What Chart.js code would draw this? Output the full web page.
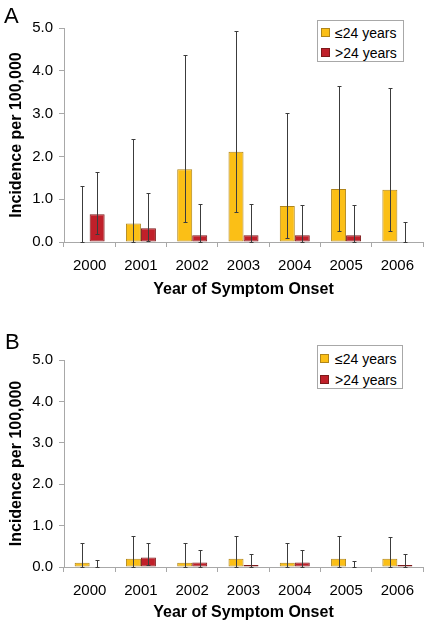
<!DOCTYPE html>
<html>
<head>
<meta charset="utf-8">
<script src="https://cdn.jsdelivr.net/npm/chart.js@4.4.1/dist/chart.umd.min.js"></script>
<style>
  body { margin: 0; background: #fff; font-family: 'Liberation Sans', Arial, sans-serif; color: #000; }
  .panel { position: relative; width: 427px; height: 312px; }
  .panel canvas { position: absolute; left: 0; top: 0; }
  .tag { position: absolute; font-size: 22px; line-height: 22px; }
  .lgbox { position: absolute; border: 1px solid #a8a8a8; box-sizing: border-box; background: #fff; }
  .sw { position: absolute; width: 9px; height: 9px; box-sizing: border-box; }
  .lt { position: absolute; font-size: 14px; line-height: 14px; white-space: nowrap; }
</style>
</head>
<body>

<div class="panel">
  <canvas id="chartA" width="427" height="312"></canvas>
  <div class="tag" style="left:4px;top:5px">A</div>
  <div class="lgbox" style="left:317px;top:20px;width:87px;height:42px"></div>
  <div class="sw" style="left:321px;top:28px;background:#fbbf16;border:1px solid #b0851a"></div>
  <div class="lt" style="left:335px;top:26px">≤24 years</div>
  <div class="sw" style="left:321px;top:48px;background:#c0202a;border:1px solid #7d1a1a"></div>
  <div class="lt" style="left:335px;top:46px">&gt;24 years</div>
</div>

<div class="panel">
  <canvas id="chartB" width="427" height="312"></canvas>
  <div class="tag" style="left:5px;top:19px">B</div>
  <div class="lgbox" style="left:317px;top:33px;width:86px;height:44px"></div>
  <div class="sw" style="left:320px;top:42px;background:#fbbf16;border:1px solid #b0851a"></div>
  <div class="lt" style="left:335px;top:40px">≤24 years</div>
  <div class="sw" style="left:320px;top:63px;background:#c0202a;border:1px solid #7d1a1a"></div>
  <div class="lt" style="left:335px;top:61px">&gt;24 years</div>
</div>

<script>
// ─── Data ──────────────────────────────────────────────
const years = ['2000', '2001', '2002', '2003', '2004', '2005', '2006'];
const yMax = 5;
const yStep = 1;

// Panel A
const youngA   = [0, 0.43, 1.70, 2.11, 0.84, 1.24, 1.22];
const youngALo = [0, 0, 0.47, 0.70, 0.09, 0.25, 0.25];
const youngAHi = [1.30, 2.40, 4.37, 4.93, 3.02, 3.64, 3.60];
const olderA   = [0.65, 0.32, 0.16, 0.16, 0.16, 0.16, 0];
const olderALo = [0.18, 0.03, 0, 0, 0, 0, 0];
const olderAHi = [1.64, 1.15, 0.89, 0.89, 0.87, 0.86, 0.46];

// Panel B
const youngB   = [0.10, 0.20, 0.10, 0.20, 0.10, 0.20, 0.20];
const youngBLo = [0, 0, 0, 0, 0, 0, 0];
const youngBHi = [0.58, 0.75, 0.58, 0.75, 0.58, 0.74, 0.72];
const olderB   = [0, 0.23, 0.11, 0.05, 0.11, 0, 0.05];
const olderBLo = [0, 0.04, 0, 0, 0, 0, 0];
const olderBHi = [0.17, 0.59, 0.41, 0.31, 0.41, 0.15, 0.31];

// ─── Error bars drawn from the y scale ─────────────────
const whiskers = {
  id: 'whiskers',
  afterDatasetsDraw(chart) {
    const { ctx } = chart;
    const y = chart.scales.y;
    ctx.save();
    ctx.strokeStyle = '#3c3c3c';
    ctx.lineWidth = 1;
    chart.data.datasets.forEach((ds, di) => {
      chart.getDatasetMeta(di).data.forEach((bar, i) => {
        const x = Math.round(bar.x) + 0.5;
        const lo = Math.round(y.getPixelForValue(ds.lo[i])) + 0.5;
        const hi = Math.round(y.getPixelForValue(ds.hi[i])) + 0.5;
        ctx.beginPath();
        ctx.moveTo(x, lo); ctx.lineTo(x, hi);
        ctx.moveTo(x - 2, hi); ctx.lineTo(x + 2, hi);
        ctx.moveTo(x - 2, lo); ctx.lineTo(x + 2, lo);
        ctx.stroke();
      });
    });
    ctx.restore();
  },
};

const axisGrey = '#a8a8a8';
const font = "'Liberation Sans', Arial, sans-serif";

function makeChart(id, young, yLo, yHi, older, oLo, oHi, lay) {
  const zeroless = (c) => (c.raw ? 1 : 0);
  return new Chart(document.getElementById(id), {
    type: 'bar',
    data: {
      labels: years,
      datasets: [
        { label: '≤24 years', data: young, lo: yLo, hi: yHi,
          backgroundColor: '#fbbf16', borderColor: '#b0851a', borderWidth: zeroless, borderSkipped: false },
        { label: '>24 years', data: older, lo: oLo, hi: oHi,
          backgroundColor: '#c0202a', borderColor: '#7d1a1a', borderWidth: zeroless, borderSkipped: false },
      ],
    },
    options: {
      responsive: false,
      animation: false,
      events: [],
      categoryPercentage: 0.585,
      barPercentage: 1,
      layout: { padding: { top: lay.top, right: 4, left: 0, bottom: 0 } },
      plugins: { legend: { display: false }, tooltip: { enabled: false } },
      scales: {
        x: {
          afterFit: (s) => { s.height = lay.xh; },
          border: { color: axisGrey },
          grid: { offset: true, drawOnChartArea: false, drawTicks: true, tickLength: 5, color: axisGrey },
          ticks: { color: '#000', font: { family: font, size: 15 }, padding: 10 },
          title: { display: true, text: 'Year of Symptom Onset', color: '#000',
                   font: { family: font, size: 16, weight: 'bold' }, padding: { top: 0, bottom: lay.tb } },
        },
        y: {
          min: 0, max: yMax,
          afterFit: (s) => { s.width = 64; },
          border: { color: axisGrey },
          grid: { drawOnChartArea: false, drawTicks: true, tickLength: 5, color: axisGrey },
          ticks: { stepSize: yStep, color: '#000', font: { family: font, size: 15 }, padding: 6,
                   callback: (v) => v.toFixed(1) },
          title: { display: true, text: 'Incidence per 100,000', color: '#000',
                   font: { family: font, size: 16, weight: 'bold' }, padding: { top: 7, bottom: 0 } },
        },
      },
    },
    plugins: [whiskers],
  });
}

makeChart('chartA', youngA, youngALo, youngAHi, olderA, olderALo, olderAHi, { top: 28, xh: 70, tb: 13 });
makeChart('chartB', youngB, youngBLo, youngBHi, olderB, olderBLo, olderBHi, { top: 48, xh: 57, tb: 2 });
</script>
</body>
</html>
